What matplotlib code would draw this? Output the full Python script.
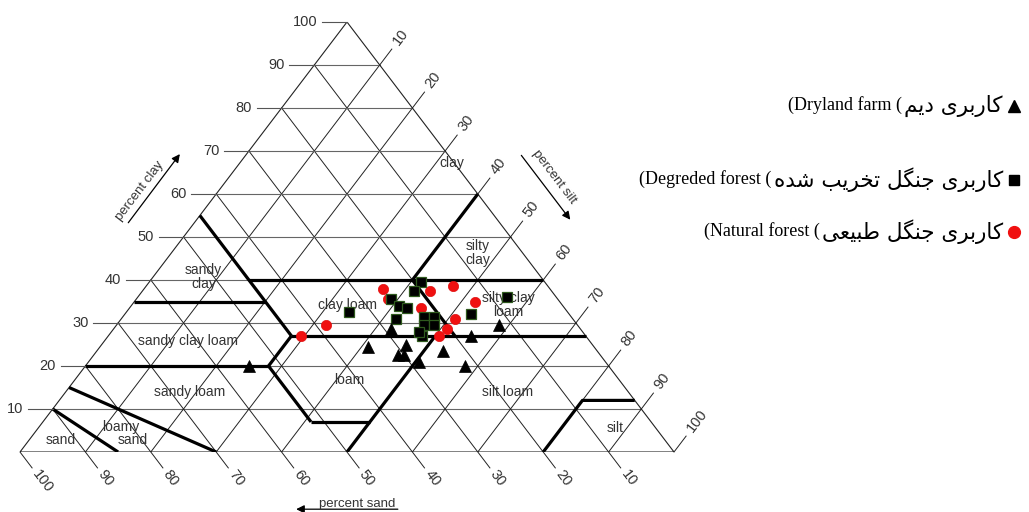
import numpy as np
import matplotlib
matplotlib.use("Agg")
import matplotlib.pyplot as plt

# soil samples, percent clay and percent silt (sand = 100 - clay - silt)
natural_clay = [38, 35.5, 37.5, 38.5, 33.5, 35, 31, 28.5, 27, 29.5, 27]
natural_silt = [36.5, 38.5, 44, 47, 44.5, 52, 51, 51, 50.5, 32, 29.5]

degraded_clay = [39.5, 37.5, 35.5, 34, 33.5, 32.5, 31, 31.5, 31.5, 29.5, 29.5, 27, 28, 32, 36]
degraded_silt = [41.5, 41.5, 39, 41, 42.5, 34, 42, 46, 47.5, 47, 48.5, 48, 47, 53, 56.5]

dryland_clay = [29.5, 27, 28.5, 24.5, 25, 22.5, 22.5, 21, 23.5, 20, 20]
dryland_silt = [58.5, 55.5, 42.5, 41, 46.5, 46.5, 47.5, 50.5, 53, 58, 25]

ticks = list(range(10, 101, 10))

# USDA class boundaries as (silt, clay) polylines
boundaries = [
    [(0, 55), (28, 27)],
    [(15, 40), (60, 40)],
    [(0, 35), (20, 35)],
    [(28, 27), (73, 27)],
    [(28, 27), (28, 20)],
    [(0, 20), (28, 20)],
    [(28, 20), (41, 7)],
    [(41, 7), (50, 7)],
    [(50, 0), (50, 27)],
    [(40, 40), (53, 27)],
    [(40, 40), (40, 60)],
    [(80, 0), (80, 12), (88, 12)],
    [(0, 10), (15, 0)],
    [(0, 15), (30, 0)],
]

# class names: text, silt, clay
class_names = [
    ("clay", 32.5, 67.2), ("silty\nclay", 46.8, 46.3), ("sandy\nclay", 7.7, 40.7),
    ("clay loam", 32.9, 34.2), ("silty clay\nloam", 57.5, 34.2),
    ("sandy clay loam", 12.8, 25.8), ("loam", 42.0, 16.7), ("sandy loam", 19.0, 14.0),
    ("silt loam", 67.5, 14.0), ("silt", 88.2, 5.6), ("loamy", 12.5, 5.8),
    ("sand", 15.9, 2.8), ("sand", 4.9, 2.8),
]

legend_fa = ["کاربری دیم", "کاربری جنگل تخریب شده", "کاربری جنگل طبیعی"]
legend_en = ["Dryland farm", "Degreded forest", "Natural forest"]

# presentation forms: isolated, final, initial, medial
FORMS = {
    'ا': ('\uFE8D', '\uFE8E', None, None),
    'ب': ('\uFE8F', '\uFE90', '\uFE91', '\uFE92'),
    'ت': ('\uFE95', '\uFE96', '\uFE97', '\uFE98'),
    'ج': ('\uFE9D', '\uFE9E', '\uFE9F', '\uFEA0'),
    'خ': ('\uFEA5', '\uFEA6', '\uFEA7', '\uFEA8'),
    'د': ('\uFEA9', '\uFEAA', None, None),
    'ر': ('\uFEAD', '\uFEAE', None, None),
    'ش': ('\uFEB5', '\uFEB6', '\uFEB7', '\uFEB8'),
    'ط': ('\uFEC1', '\uFEC2', '\uFEC3', '\uFEC4'),
    'ع': ('\uFEC9', '\uFECA', '\uFECB', '\uFECC'),
    'ل': ('\uFEDD', '\uFEDE', '\uFEDF', '\uFEE0'),
    'م': ('\uFEE1', '\uFEE2', '\uFEE3', '\uFEE4'),
    'ن': ('\uFEE5', '\uFEE6', '\uFEE7', '\uFEE8'),
    'ه': ('\uFEE9', '\uFEEA', '\uFEEB', '\uFEEC'),
    'ک': ('\uFB8E', '\uFB8F', '\uFB90', '\uFB91'),
    'گ': ('\uFB92', '\uFB93', '\uFB94', '\uFB95'),
    'ی': ('\uFBFC', '\uFBFD', '\uFBFE', '\uFBFF'),
}


def shape_fa(text):
    # join persian letters and put them in visual (left to right) order
    out = []
    for i, ch in enumerate(text):
        if ch not in FORMS:
            out.append(ch)
            continue
        iso, fin, ini, med = FORMS[ch]
        prev = text[i - 1] if i > 0 else ''
        nxt = text[i + 1] if i + 1 < len(text) else ''
        jp = prev in FORMS and FORMS[prev][2] is not None
        jn = ini is not None and nxt in FORMS
        if jp and jn:
            out.append(med)
        elif jp:
            out.append(fin)
        elif jn:
            out.append(ini)
        else:
            out.append(iso)
    return ''.join(reversed(out))


def tern(silt, clay):
    silt = np.asarray(silt, dtype=float)
    clay = np.asarray(clay, dtype=float)
    return silt + clay / 2, clay


W, H = 1029, 512
fig = plt.figure(figsize=(W / 100, H / 100), dpi=100)
ax = fig.add_axes([20 / W, 60 / H, 654 / W, 430 / H])
ax.set_xlim(0, 100)
ax.set_ylim(0, 100)
ax.axis("off")

p0 = ax.transData.transform((0, 0))
p1 = ax.transData.transform((50, 100))
edge_ang = np.degrees(np.arctan2(p1[1] - p0[1], p1[0] - p0[0]))

sans = "Liberation Sans"
txt_col = "#333333"

# grid
for v in ticks[:-1]:
    ax.plot([v / 2, 100 - v / 2], [v, v], color="#666666", lw=0.8, zorder=1)
    ax.plot([v, 50 + v / 2], [0, 100 - v], color="#222222", lw=0.7, zorder=1)
    ax.plot([100 - v, (100 - v) / 2], [0, 100 - v], color="#222222", lw=0.7, zorder=1)
ax.plot([0, 100, 50, 0], [0, 0, 100, 0], color="#222222", lw=0.8, zorder=1)

for line in boundaries:
    s, c = zip(*line)
    x, y = tern(s, c)
    ax.plot(x, y, color="black", lw=2.3, solid_capstyle="butt", zorder=2)

# clay ticks (left)
for c in ticks:
    ax.plot([c / 2 - 3.8, c / 2], [c, c], color="#555555", lw=0.8, clip_on=False)
    ax.text(c / 2 - 4.5, c, str(c), ha="right", va="center", fontsize=10.5,
            family=sans, color=txt_col)

# silt ticks (right)
for s in ticks:
    x0, y0 = 50 + s / 2, 100 - s
    ax.plot([x0, x0 + 0.5 * 3.7], [y0, y0 + 3.7], color="#222222", lw=0.7, clip_on=False)
    ax.text(x0 + 0.5 * 4.9, y0 + 4.9, str(s), ha="left", va="center", fontsize=10.5,
            family=sans, color=txt_col, rotation=edge_ang, rotation_mode="anchor")

# sand ticks (bottom)
for a in ticks:
    x0 = 100 - a
    ax.plot([x0, x0 + 0.5 * 3.7], [0, -3.7], color="#222222", lw=0.7, clip_on=False)
    ax.text(x0 + 0.5 * 4.6, -4.6, str(a), ha="left", va="center", fontsize=10.5,
            family=sans, color=txt_col, rotation=-edge_ang, rotation_mode="anchor")

for name, s, c in class_names:
    x, y = tern(s, c)
    ax.text(x, y, name, ha="center", va="center", fontsize=10, family=sans,
            color=txt_col, linespacing=1.0, zorder=3)

# axis titles
arrow = dict(arrowstyle="-|>", color="black", lw=0.9, mutation_scale=12)
ax.annotate("", xy=(24.7, 69.8), xytext=(16.3, 52.8), arrowprops=arrow, annotation_clip=False)
ax.text(18.3, 60.6, "percent clay", rotation=edge_ang, ha="center", va="center",
        fontsize=9.5, family=sans, color=txt_col, rotation_mode="anchor")
ax.annotate("", xy=(84.4, 53.5), xytext=(76.4, 69.5), arrowprops=arrow, annotation_clip=False)
ax.text(81.7, 63.9, "percent silt", rotation=-edge_ang, ha="center", va="center",
        fontsize=9.5, family=sans, color=txt_col, rotation_mode="anchor")
ax.annotate("", xy=(41.8, -13.3), xytext=(58.2, -13.3), arrowprops=arrow, annotation_clip=False)
ax.text(51.5, -12.8, "percent sand", ha="center", va="baseline",
        fontsize=9.5, family=sans, color=txt_col)

# samples
x, y = tern(natural_silt, natural_clay)
ax.plot(x, y, "o", color="#f01010", ms=7.4, mec="#e01010", mew=0.5, zorder=5, clip_on=False)
x, y = tern(degraded_silt, degraded_clay)
ax.plot(x, y, "s", color="black", ms=6.8, mec="#2f5a1e", mew=0.9, zorder=6, clip_on=False)
x, y = tern(dryland_silt, dryland_clay)
ax.plot(x, y, "^", color="black", ms=8.2, mec="black", mew=0.5, zorder=7, clip_on=False)

# legend (right to left: marker, persian, english)
renderer = fig.canvas.get_renderer()
leg_y = [106, 180, 232]
leg_mk = [("^", "black", 8.5), ("s", "black", 6.5), ("o", "#f01010", 8.5)]
for fa, en, yy, (mk, col, ms) in zip(legend_fa, legend_en, leg_y, leg_mk):
    t_fa = fig.text(1003 / W, 1 - yy / H, shape_fa(fa), ha="right", va="center",
                    fontsize=15.5, family=["DejaVu Sans"], color="black")
    left = t_fa.get_window_extent(renderer).x0
    fig.text((left - 2) / W, 1 - (yy - 1) / H, "(" + en + " (", ha="right", va="center",
             fontsize=13, family="Liberation Serif", color="black")
    ax.plot([1014 / W], [1 - yy / H], mk, color=col, ms=ms, transform=fig.transFigure,
            clip_on=False)

fig.savefig("out.png", dpi=100, facecolor="white")
